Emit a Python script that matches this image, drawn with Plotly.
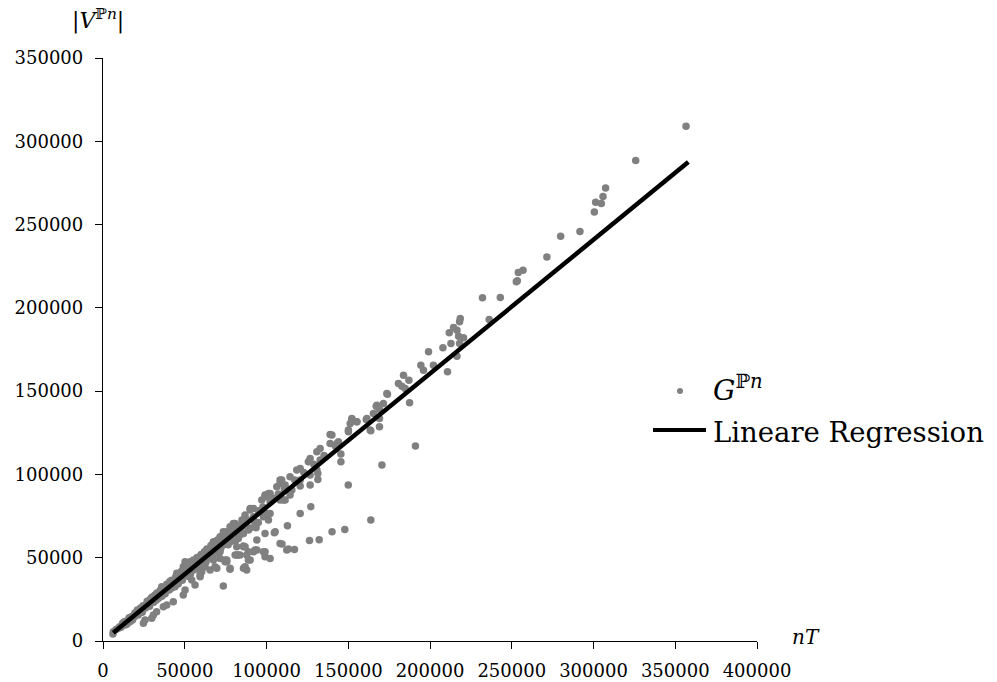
import plotly.graph_objects as go

# Scatter data G^{P_n}: (nT, |V^{P_n}|)
points_x = [
    356600, 325800, 307400, 305800, 301300, 304800, 300500, 291700, 279900, 271500,
    256900, 254000, 253400, 252800, 243000, 232100, 236200, 218500, 218100, 214400,
    216500, 211800, 217500, 220500, 212800, 218100, 207900, 199100, 216500, 210700,
    202100, 194400, 196000, 183800, 187100, 180700, 182800, 184800, 174000, 187500,
    171500, 167100, 169100, 165400, 169100, 161000, 152200, 155300, 151200, 169100,
    150100, 163800, 144000, 140000, 191100, 170600, 150000, 163800, 147900, 140100,
    132200, 126300, 127100, 120600, 112800, 104800, 109500, 113400, 117100, 145500,
    145500, 126700, 131400, 131400, 120600, 115500, 111400, 114400, 102200, 94100,
    98100, 99100, 88900, 87900, 86900, 77700, 74700, 92000, 83800, 80800,
    85900, 81800, 99100, 93600, 92000, 101200, 98100, 85500,
    138900, 152200, 155200, 150100, 143000, 138900, 132800, 130800, 126700, 125600,
    120600, 118500, 114400, 109300, 106300, 102200, 99100, 92000, 90000, 86900,
    80800, 77700, 75700, 71600,
    132800, 130800, 126700, 120600, 114400, 110300, 102200, 96100, 92000, 85900,
    84900, 80800, 77700, 71600, 74700,
    173600, 167500, 161400, 163400,
    73600, 75700, 81800, 87900, 93000, 85900, 69600, 67500, 85900, 59400,
    49100, 30800, 24700,
    6100, 25700, 29800, 32800, 36900, 39000, 43000, 50200, 54300, 56300,
    59400, 60400, 60400, 53200, 49100, 45100, 41000, 35900, 31800, 27700,
    23700, 19600, 16500, 13500, 9400, 6300,
    108300, 101200, 99100, 108300, 105300, 108300, 112400, 99100, 102200, 94100,
    88900, 86900, 90000, 82800, 85900, 77700, 75700, 71600, 68500, 65500,
    62400, 59400, 55300, 51200, 49100, 50200, 55300, 67500, 73600, 79700,
    90000, 97100, 100200, 108300, 111400, 73600, 82800, 93000, 100200, 66500,
    59400, 69600,
    8000, 10200, 11800, 14100, 15800, 18200, 20100, 21900, 24200, 26100,
    27800, 30300, 32100, 33900, 36200, 38100, 40200, 41800, 44100, 46200,
    47900, 50300, 52100, 53800, 56200, 58100, 60200, 61900, 64100, 66200,
    68000, 70100, 72300, 74000, 76200, 78100, 80300, 82000, 84200, 86100,
    88300, 95100, 97800, 104100, 107200, 110900, 117300, 122800, 128900, 135200,
    142100,
    12000, 17000, 23000, 29000, 35000, 42000, 48000, 55000, 62000, 70000,
    78000, 85000,
    11000, 15000, 19000, 22000, 26000, 31000, 34000, 38000, 42000, 46000,
    52000, 57000, 63000, 67000, 72000, 78000, 84000, 90000,
    13000, 16000, 19500, 21000, 24500, 27000, 30000, 33000, 36500, 39000,
    41000, 44500, 47000, 51000, 54000, 57500, 60000, 63500, 66000, 69000,
    72500,
    14500, 18000, 21500, 24000, 28500, 32500, 36000, 40500, 44000, 48500,
    53500, 58500, 62000, 65500, 70000, 76500, 81000, 89000, 95000,
]
points_y = [
    309000, 288400, 272000, 266800, 263400, 262600, 257600, 245800, 243000, 230600,
    222600, 221200, 216200, 215600, 206200, 206000, 193000, 193600, 191600, 188200,
    186600, 185000, 183000, 182000, 178600, 178600, 176000, 173600, 171000, 161600,
    165600, 165600, 162600, 159600, 156600, 154600, 153000, 151600, 148200, 143000,
    142600, 141000, 139000, 136600, 133600, 133000, 133600, 131600, 130600, 128600,
    125600, 126200, 119600, 123600, 117000, 105600, 93600, 72600, 67000, 65600,
    60800, 60400, 80600, 76600, 69200, 65000, 58200, 55200, 55000, 112200,
    107600, 93600, 97000, 100600, 93000, 90600, 84600, 87600, 76600, 60600,
    53600, 50600, 48600, 42600, 44600, 43000, 47600, 53600, 51600, 51600,
    57000, 56600, 64600, 68000, 72600, 72600, 74600, 64600,
    124000, 133000, 131600, 126600, 118600, 118600, 115600, 113600, 109600, 107600,
    103600, 102600, 98600, 96600, 92600, 88600, 87600, 79600, 78600, 75600,
    70600, 68600, 65600, 62600,
    108600, 102600, 99600, 96600, 89600, 84600, 83600, 77600, 74600, 72600,
    68600, 64600, 62600, 53600, 48600,
    148600, 141600, 133600, 126600,
    33000, 47600, 51600, 51600, 54600, 56600, 43600, 48600, 64600, 41600,
    27600, 15600, 10600,
    4200, 12600, 13600, 17600, 20600, 21600, 23600, 30600, 36600, 33600,
    38600, 41600, 51600, 47600, 44600, 40600, 35600, 32600, 27600, 22600,
    18600, 15600, 11600, 9600, 7600, 5600,
    94600, 88600, 86600, 84600, 65600, 58600, 54600, 53600, 49600, 54600,
    53600, 56600, 48600, 51600, 43600, 43600, 48600, 49600, 44600, 42600,
    44600, 39600, 42600, 44600, 39600, 47600, 48600, 59600, 65600, 70600,
    79600, 84600, 87600, 96600, 93600, 57600, 61600, 70600, 76600, 54600,
    49600, 52600,
    6900, 8500, 9700, 11800, 13000, 14900, 16500, 18100, 19800, 21500,
    22900, 24800, 26400, 27900, 29700, 31300, 33100, 34300, 36300, 37800,
    39500, 41400, 42900, 44500, 46100, 47900, 49600, 50800, 52700, 54400,
    56000, 57700, 59300, 61000, 62800, 64300, 66100, 67600, 69300, 71000,
    72600, 78200, 80500, 85700, 88300, 91200, 96600, 101200, 106100, 111300,
    117000,
    10600, 14400, 19800, 25200, 30400, 36400, 41800, 47800, 53600, 60600,
    66800, 72600,
    8200, 11000, 14200, 16600, 19800, 23200, 25600, 28400, 31800, 34200,
    38800, 43600, 47400, 51200, 55600, 59600, 64000, 67800,
    11500, 14000, 16800, 18600, 21200, 23800, 26400, 28800, 31800, 34000,
    35800, 38600, 40800, 44600, 46800, 50200, 52000, 55200, 57400, 59800,
    62800,
    10000, 12600, 15600, 17200, 20800, 24400, 26800, 30600, 32600, 36400,
    40200, 44800, 45200, 49800, 52400, 57800, 60200, 66600, 71200,
]

# Linear regression line end points
regression_x = [6300, 358000]
regression_y = [5000, 287500]

x_ticks = [0, 50000, 100000, 150000, 200000, 250000, 300000, 350000, 400000]
y_ticks = [0, 50000, 100000, 150000, 200000, 250000, 300000, 350000]

FONT = "DejaVu Serif"
GREY = "#808080"

fig = go.Figure()
fig.add_trace(go.Scatter(
    x=points_x, y=points_y, mode="markers",
    marker=dict(color=GREY, size=7.5, line=dict(width=0)),
    name="G", showlegend=False,
))
fig.add_trace(go.Scatter(
    x=regression_x, y=regression_y, mode="lines",
    line=dict(color="black", width=4.5),
    name="Lineare Regression", showlegend=False,
))

axis_common = dict(
    showgrid=False, zeroline=False, showline=True, linecolor="black", linewidth=1.3,
    ticks="outside", ticklen=7, tickwidth=1.3, tickcolor="black", automargin=False,
    tickfont=dict(family=FONT, size=18, color="black"), tickformat="d",
)
fig.update_xaxes(range=[0, 400000], tickvals=x_ticks, ticklabelstandoff=6, **axis_common)
fig.update_yaxes(range=[0, 350000], tickvals=y_ticks, ticklabelstandoff=8, **axis_common)

# Manual legend
fig.add_shape(type="circle", xref="paper", yref="paper",
              x0=(677 - 103) / 654, x1=(683 - 103) / 654,
              y0=(641 - 394) / 583, y1=(641 - 388) / 583,
              fillcolor=GREY, line=dict(width=0))
fig.add_shape(type="line", xref="paper", yref="paper",
              x0=(653 - 103) / 654, x1=(706 - 103) / 654,
              y0=(641 - 430) / 583, y1=(641 - 430) / 583,
              line=dict(color="black", width=4))

annotations = [
    dict(text="|<i>V</i><sup>ℙ<i>n</i></sup>|", x=(98 - 103) / 654, y=(641 - 19) / 583,
         font=dict(family=FONT, size=22, color="black")),
    dict(text="<i>nT</i>", x=(806 - 103) / 654, y=(641 - 637) / 583,
         font=dict(family=FONT, size=20, color="black")),
    dict(text="<i>G</i><sup>ℙ<i>n</i></sup>", x=(711 - 103) / 654, y=(641 - 388) / 583,
         xanchor="left", font=dict(family=FONT, size=28, color="black")),
    dict(text="Lineare Regression", x=(711 - 103) / 654, y=(641 - 432) / 583,
         xanchor="left", font=dict(family=FONT, size=27.5, color="black")),
]
for a in annotations:
    a.setdefault("xanchor", "center")
    a.update(xref="paper", yref="paper", yanchor="middle", showarrow=False)
    fig.add_annotation(**a)

fig.update_layout(
    width=997, height=682,
    margin=dict(l=103, r=240, t=58, b=41),
    plot_bgcolor="white", paper_bgcolor="white",
    showlegend=False,
)

fig.write_html("out.html")
